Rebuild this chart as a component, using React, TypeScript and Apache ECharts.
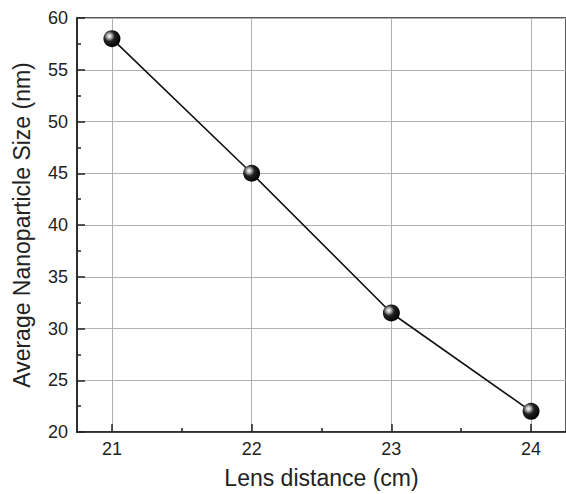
import React, { useEffect, useRef } from "react";
import * as echarts from "echarts";

const lensDistance = [21, 22, 23, 24];
const particleSize = [58, 45, 31.5, 22];
const xMajorTicks = [21, 22, 23, 24];
const xMinorTicks = [21.5, 22.5, 23.5];

const FONT = "Liberation Sans, Arial, sans-serif";

export default function App() {
  const ref = useRef<HTMLDivElement>(null);
  useEffect(() => {
    if (!ref.current) return;
    const chart = echarts.init(ref.current, null, { renderer: "svg" });
    const sphere = {
      type: "radial",
      x: 0.35,
      y: 0.35,
      r: 0.7,
      colorStops: [
        { offset: 0, color: "#ffffff" },
        { offset: 0.18, color: "#bbbbbb" },
        { offset: 0.45, color: "#222222" },
        { offset: 1, color: "#000000" },
      ],
    };
    chart.setOption({
      animation: false,
      backgroundColor: "#ffffff",
      grid: {
        left: 77,
        top: 18,
        width: 490,
        height: 414,
        show: true,
        borderColor: "#222",
        borderWidth: 1.5,
        backgroundColor: "transparent",
      },
      xAxis: [
        {
          type: "value",
          min: 20.75,
          max: 24.25,
          name: "Lens distance (cm)",
          nameLocation: "middle",
          nameGap: 34,
          nameTextStyle: { fontFamily: FONT, fontSize: 23, color: "#222" },
          axisLine: { show: true, onZero: false, lineStyle: { color: "#222", width: 1.5 } },
          axisTick: {
            show: true,
            inside: true,
            length: 8,
            customValues: xMajorTicks,
            lineStyle: { color: "#222", width: 1.5 },
          },
          axisLabel: {
            customValues: xMajorTicks,
            margin: 8,
            fontFamily: FONT,
            fontSize: 18,
            color: "#222",
          },
          splitLine: { show: true, lineStyle: { color: "#b0b0b0", width: 1 } },
        },
        {
          type: "value",
          position: "bottom",
          min: 20.75,
          max: 24.25,
          axisLine: { show: false },
          axisTick: {
            show: true,
            inside: true,
            length: 4,
            customValues: xMinorTicks,
            lineStyle: { color: "#222", width: 1.5 },
          },
          axisLabel: { show: false },
          splitLine: { show: false },
        },
      ],
      yAxis: {
        type: "value",
        min: 20,
        max: 60,
        interval: 5,
        name: "Average Nanoparticle Size (nm)",
        nameLocation: "middle",
        nameGap: 44,
        nameTextStyle: { fontFamily: FONT, fontSize: 23, color: "#222" },
        axisLine: { show: true, onZero: false, lineStyle: { color: "#222", width: 1.5 } },
        axisTick: { show: true, inside: true, length: 8, lineStyle: { color: "#222", width: 1.5 } },
        minorTick: { show: true, splitNumber: 2, length: 4, lineStyle: { color: "#222", width: 1.5 } },
        axisLabel: { margin: 9, fontFamily: FONT, fontSize: 18, color: "#222" },
        splitLine: { show: true, lineStyle: { color: "#b0b0b0", width: 1 } },
      },
      series: [
        {
          type: "line",
          xAxisIndex: 0,
          data: lensDistance.map((x, i) => [x, particleSize[i]]),
          symbol: "circle",
          symbolSize: 17,
          lineStyle: { color: "#111", width: 1.6 },
          itemStyle: { color: sphere as any, borderWidth: 0 },
          z: 5,
        },
      ],
    });
    return () => chart.dispose();
  }, []);
  return (
    <div
      ref={ref}
      style={{ position: "fixed", left: 0, top: 0, width: 566, height: 494 }}
    />
  );
}
